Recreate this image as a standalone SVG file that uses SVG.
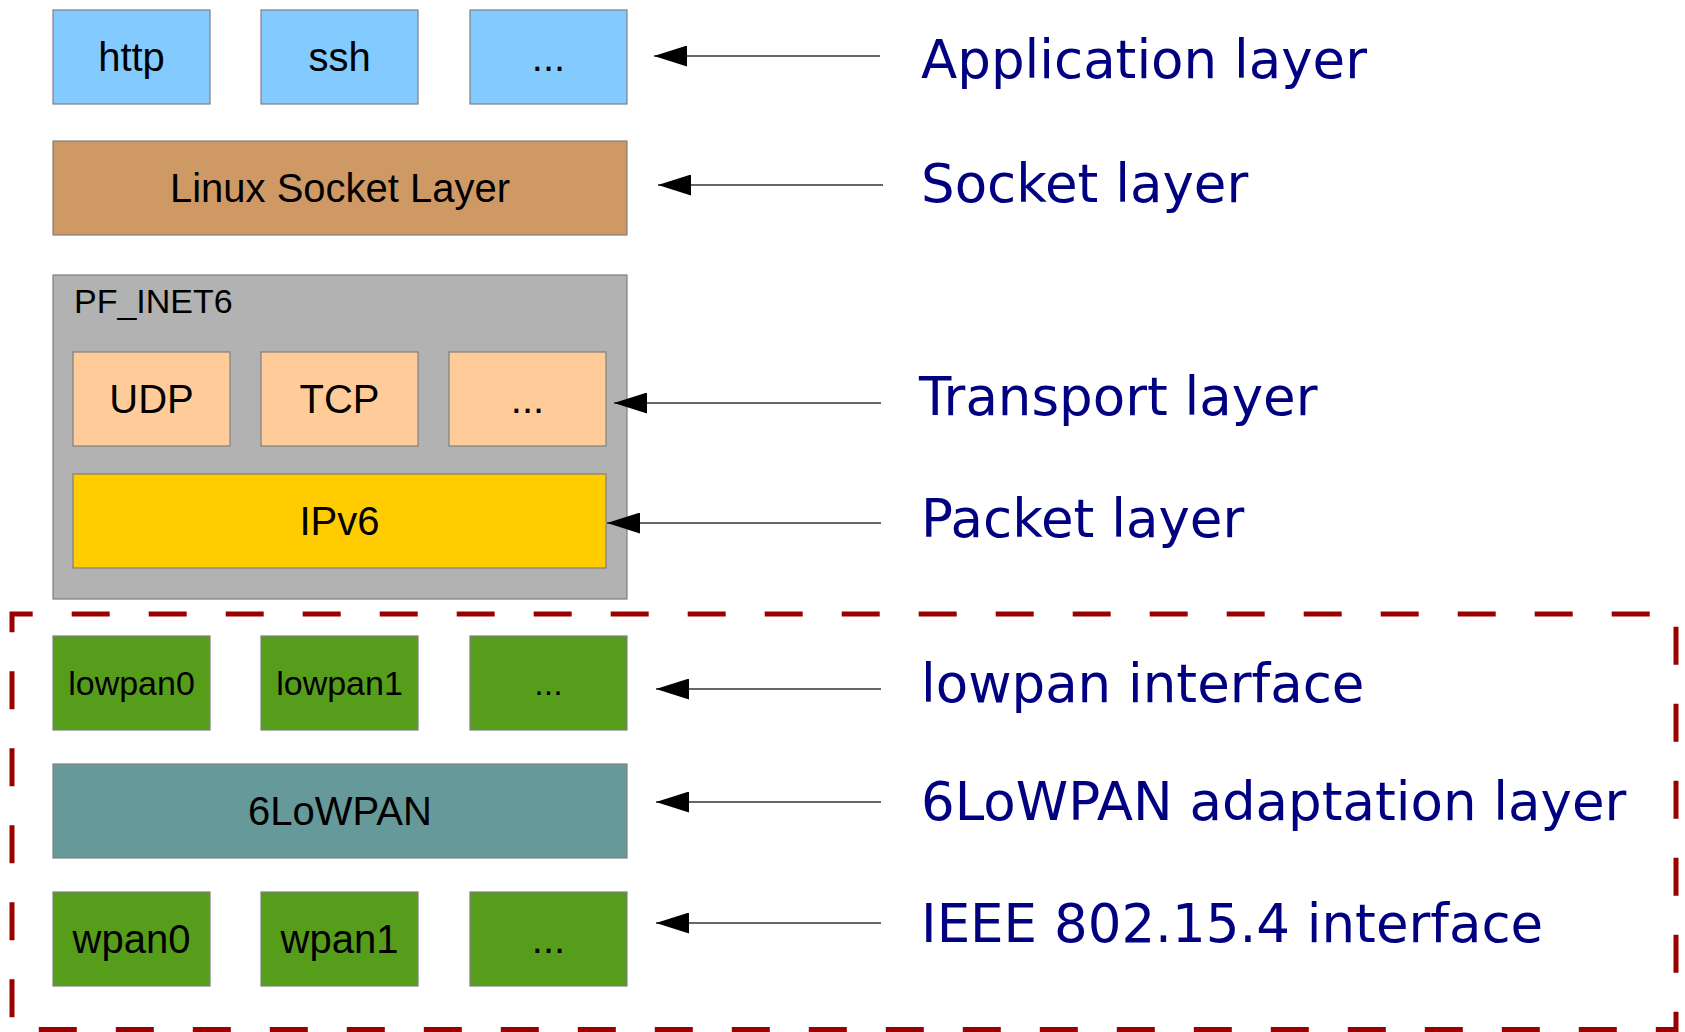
<svg xmlns="http://www.w3.org/2000/svg" width="1685" height="1032" viewBox="0 0 1685 1032">
<defs>
<style>
.box{stroke:#7f7f7f;stroke-width:1.2}
.blue{fill:#83caff}
.sock{fill:#cf9966}
.grey{fill:#b2b2b2}
.orange{fill:#ffcc99}
.yellow{fill:#ffcc00}
.green{fill:#579d1c}
.teal{fill:#669999}
.t{font-family:"Liberation Sans",Arial,sans-serif;font-size:40px;fill:#000;text-anchor:middle}
.ts{font-size:34px}
.lbl{font-family:"DejaVu Sans",sans-serif;font-size:53px;fill:#000080}
.arr{stroke:#333;stroke-width:1.5;fill:none;marker-end:url(#ah)}
</style>
<marker id="ah" markerUnits="userSpaceOnUse" markerWidth="33" markerHeight="21" viewBox="0 0 33 21" refX="33" refY="10.5" orient="auto">
<path d="M0,0 L33,10.5 L0,21 Z" fill="#000"/>
</marker>
</defs>
<rect width="1685" height="1032" fill="#fff"/>

<g id="dashed-region">
<path d="M31.7,614 L12,614 L12,1029.5 L1676,1029.5 L1676,614 Z" fill="none" stroke="#990000" stroke-width="5" stroke-dasharray="38 39"/>
</g>

<g id="http"><rect class="box blue" x="53" y="10" width="157" height="94"/><text class="t" x="131.5" y="71">http</text></g>
<g id="ssh"><rect class="box blue" x="261" y="10" width="157" height="94"/><text class="t" x="339.5" y="71">ssh</text></g>
<g id="app-more"><rect class="box blue" x="470" y="10" width="157" height="94"/><text class="t" x="548.5" y="71">...</text></g>

<g id="socket"><rect class="box sock" x="53" y="141" width="574" height="94"/><text class="t" x="340" y="202">Linux Socket Layer</text></g>

<g id="pf_inet6"><rect class="box grey" x="53" y="275" width="574" height="324"/><text class="t ts" x="74" y="313" style="text-anchor:start">PF_INET6</text></g>
<g id="udp"><rect class="box orange" x="73" y="352" width="157" height="94"/><text class="t" x="151.5" y="413">UDP</text></g>
<g id="tcp"><rect class="box orange" x="261" y="352" width="157" height="94"/><text class="t" x="339.5" y="413">TCP</text></g>
<g id="transport-more"><rect class="box orange" x="449" y="352" width="157" height="94"/><text class="t" x="527.5" y="413">...</text></g>
<g id="ipv6"><rect class="box yellow" x="73" y="474" width="533" height="94"/><text class="t" x="339.5" y="535">IPv6</text></g>

<g id="lowpan0"><rect class="box green" x="53" y="636" width="157" height="94"/><text class="t ts" x="131.5" y="695">lowpan0</text></g>
<g id="lowpan1"><rect class="box green" x="261" y="636" width="157" height="94"/><text class="t ts" x="339.5" y="695">lowpan1</text></g>
<g id="lowpan-more"><rect class="box green" x="470" y="636" width="157" height="94"/><text class="t ts" x="548.5" y="695">...</text></g>

<g id="sixlowpan"><rect class="box teal" x="53" y="764" width="574" height="94"/><text class="t" x="340" y="825">6LoWPAN</text></g>

<g id="wpan0"><rect class="box green" x="53" y="892" width="157" height="94"/><text class="t" x="131.5" y="953">wpan0</text></g>
<g id="wpan1"><rect class="box green" x="261" y="892" width="157" height="94"/><text class="t" x="339.5" y="953">wpan1</text></g>
<g id="wpan-more"><rect class="box green" x="470" y="892" width="157" height="94"/><text class="t" x="548.5" y="953">...</text></g>

<g id="labels">
<text class="lbl" x="921" y="78">Application layer</text>
<text class="lbl" x="921" y="202">Socket layer</text>
<text class="lbl" x="919" y="415">Transport layer</text>
<text class="lbl" x="921" y="537">Packet layer</text>
<text class="lbl" x="921" y="702">lowpan interface</text>
<text class="lbl" x="921" y="820">6LoWPAN adaptation layer</text>
<text class="lbl" x="921" y="942">IEEE 802.15.4 interface</text>
</g>

<g id="connectors">
<line class="arr" x1="880" y1="56" x2="654" y2="56"/>
<line class="arr" x1="883" y1="185" x2="658" y2="185"/>
<line class="arr" x1="881" y1="403" x2="614" y2="403"/>
<line class="arr" x1="881" y1="523" x2="607" y2="523"/>
<line class="arr" x1="881" y1="689" x2="656" y2="689"/>
<line class="arr" x1="881" y1="802" x2="656" y2="802"/>
<line class="arr" x1="881" y1="923" x2="656" y2="923"/>
</g>
</svg>
